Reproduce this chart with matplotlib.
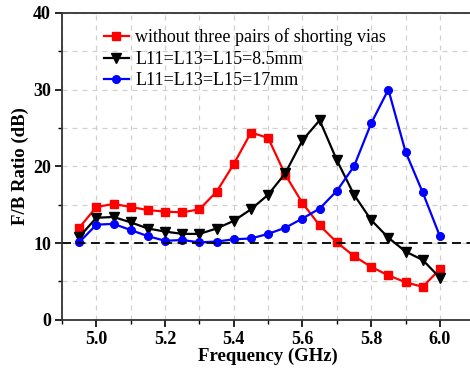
import matplotlib
matplotlib.use("Agg")
import matplotlib.pyplot as plt
from matplotlib.ticker import MultipleLocator

plt.rcParams['font.family'] = ['Liberation Serif', 'DejaVu Serif']

freq = [4.95, 5.00, 5.05, 5.10, 5.15, 5.20, 5.25, 5.30, 5.35, 5.40, 5.45,
        5.50, 5.55, 5.60, 5.65, 5.70, 5.75, 5.80, 5.85, 5.90, 5.95, 6.00]

no_vias = [12.0, 14.7, 15.1, 14.7, 14.3, 14.1, 14.0, 14.4, 16.7, 20.3, 24.4,
           23.7, 18.9, 15.2, 12.3, 10.1, 8.3, 6.9, 5.8, 4.9, 4.3, 6.6]
l_85mm = [10.8, 13.3, 13.4, 12.7, 11.9, 11.5, 11.2, 11.2, 11.9, 12.9, 14.4,
          16.3, 19.1, 23.4, 26.0, 20.8, 16.3, 13.0, 10.7, 8.9, 7.8, 5.5]
l_17mm = [10.1, 12.4, 12.5, 11.7, 10.9, 10.3, 10.4, 10.1, 10.2, 10.5, 10.6,
          11.2, 12.0, 13.2, 14.5, 16.8, 20.0, 25.6, 30.0, 21.9, 16.6, 10.9]

labels = ["without three pairs of shorting vias",
          "L11=L13=L15=8.5mm",
          "L11=L13=L15=17mm"]

fig = plt.figure(figsize=(4.7, 3.75), dpi=100)
ax = fig.add_axes([0.132, 0.147, 0.877, 0.819])

ax.plot(freq, no_vias, color='red', marker='s', markersize=5.5, lw=1.6, label=labels[0])
ax.plot(freq, l_85mm, color='black', marker='v', markersize=6.5, lw=1.6, label=labels[1])
ax.plot(freq, l_17mm, color='blue', marker='o', markersize=5.5, lw=1.6, label=labels[2])
ax.axhline(10, color='black', ls='--', lw=1.3, dashes=(5, 3))

ax.set_xlim(4.9, 6.1)
ax.set_ylim(0, 40)
ax.xaxis.set_major_locator(MultipleLocator(0.2))
ax.xaxis.set_minor_locator(MultipleLocator(0.1))
ax.yaxis.set_major_locator(MultipleLocator(10))
ax.yaxis.set_minor_locator(MultipleLocator(5))
ax.set_xticks([5.0, 5.2, 5.4, 5.6, 5.8, 6.0])
ax.set_xticklabels(["5.0", "5.2", "5.4", "5.6", "5.8", "6.0"])
ax.grid(True, which='both', color='#d0d0d0', ls='--', lw=0.9, dashes=(4, 4))
ax.set_axisbelow(True)
ax.tick_params(which='major', direction='out', length=5, width=1.2, labelsize=13, pad=3)
ax.tick_params(which='minor', direction='out', length=3, width=1.0)
for lab in ax.get_xticklabels() + ax.get_yticklabels():
    lab.set_fontweight('bold')
for sp in ax.spines.values():
    sp.set_linewidth(1.3)
    sp.set_color('#333333')

ax.set_xlabel("Frequency (GHz)", fontsize=13.5, fontweight='bold', labelpad=0)
ax.set_ylabel("F/B Ratio (dB)", fontsize=13.5, fontweight='bold', labelpad=3)

ax.legend(loc='upper left', bbox_to_anchor=(0.07, 0.99), frameon=False,
          fontsize=13, handlelength=1.4, handletextpad=0.35, labelspacing=0.25,
          borderpad=0.2)

fig.savefig("out.png", dpi=100)
